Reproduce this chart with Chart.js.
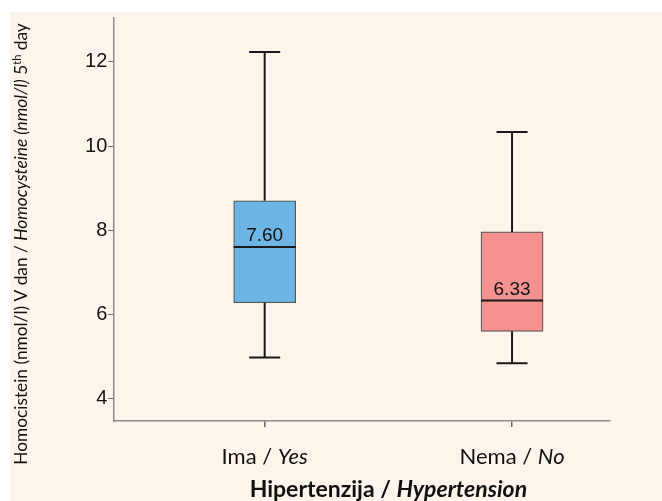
<!DOCTYPE html>
<html>
<head>
<meta charset="utf-8">
<script src="https://cdn.jsdelivr.net/npm/chart.js@4/dist/chart.umd.min.js"></script>
<style>
  html, body { margin: 0; padding: 0; background: #ffffff; }
  #wrap { position: absolute; left: 10px; top: 12px; width: 652px; height: 489px; background: #fdf4eb; }
</style>
</head>
<body>
<div id="wrap"><canvas id="box" width="652" height="489"></canvas></div>
<script>
// groups (local / english)
const groupsLocal = ["Ima", "Nema"];
const groupsEn = ["Yes", "No"];
const groupPos = [1, 2];

// box plot summary values (nmol/l)
const whiskerLow = [4.98, 4.84];
const q1 = [6.28, 5.60];
const median = [7.60, 6.33];
const q3 = [8.70, 7.96];
const whiskerHigh = [12.23, 10.33];

const yTicks = [4, 6, 8, 10, 12];
const boxColors = ["#6db5e5", "#f49191"];

const FONT = "Lato, 'Open Sans', sans-serif";

// draws medians, whiskers and the mixed-style texts
const boxExtras = {
  id: "boxExtras",
  afterDatasetsDraw(chart) {
    const { ctx, scales: { x, y } } = chart;
    ctx.save();
    groupPos.forEach((g, i) => {
      const cx = x.getPixelForValue(g);
      const half = 31, cap = 15.5;
      // whiskers
      ctx.strokeStyle = "#1a1a1a";
      ctx.lineWidth = 2;
      ctx.beginPath();
      ctx.moveTo(cx, y.getPixelForValue(q3[i]));
      ctx.lineTo(cx, y.getPixelForValue(whiskerHigh[i]));
      ctx.moveTo(cx - cap, y.getPixelForValue(whiskerHigh[i]));
      ctx.lineTo(cx + cap, y.getPixelForValue(whiskerHigh[i]));
      ctx.moveTo(cx, y.getPixelForValue(q1[i]));
      ctx.lineTo(cx, y.getPixelForValue(whiskerLow[i]));
      ctx.moveTo(cx - cap, y.getPixelForValue(whiskerLow[i]));
      ctx.lineTo(cx + cap, y.getPixelForValue(whiskerLow[i]));
      ctx.stroke();
      // median
      const my = y.getPixelForValue(median[i]);
      ctx.beginPath();
      ctx.moveTo(cx - half, my);
      ctx.lineTo(cx + half, my);
      ctx.stroke();
      ctx.fillStyle = "#111";
      ctx.font = "19px 'Liberation Sans', Arial, sans-serif";
      ctx.textAlign = "center";
      ctx.textBaseline = "alphabetic";
      ctx.fillText(median[i].toFixed(2), cx, my - 6);
    });
    ctx.restore();
  },
  afterDraw(chart) {
    const { ctx, scales: { x } } = chart;
    ctx.save();
    ctx.fillStyle = "#111";
    ctx.textBaseline = "alphabetic";
    ctx.textAlign = "left";

    const drawParts = (parts, cx, by) => {
      let total = 0;
      parts.forEach(p => { ctx.font = p.font; total += ctx.measureText(p.text).width; });
      let px = cx - total / 2;
      parts.forEach(p => {
        ctx.font = p.font;
        ctx.fillText(p.text, px, by + (p.dy || 0));
        px += ctx.measureText(p.text).width;
      });
    };

    // category labels
    groupPos.forEach((g, i) => {
      drawParts([
        { text: groupsLocal[i] + " / ", font: "22px " + FONT },
        { text: groupsEn[i], font: "italic 22px " + FONT }
      ], x.getPixelForValue(g), 452);
    });

    // x title
    const mid = (x.getPixelForValue(groupPos[0]) + x.getPixelForValue(groupPos[1])) / 2;
    drawParts([
      { text: "Hipertenzija / ", font: "bold 23px " + FONT },
      { text: "Hypertension", font: "bold italic 23px " + FONT }
    ], mid, 485);

    // y title, rotated
    ctx.translate(17, 232);
    ctx.rotate(-Math.PI / 2);
    drawParts([
      { text: "Homocistein (nmol/l) V dan / ", font: "17.3px " + FONT },
      { text: "Homocysteine (nmol/l)", font: "italic 17.3px " + FONT },
      { text: " 5", font: "17.3px " + FONT },
      { text: "th", font: "11px " + FONT, dy: -6 },
      { text: " day", font: "17.3px " + FONT }
    ], 0, 0);
    ctx.restore();
  }
};

new Chart(document.getElementById("box"), {
  type: "bar",
  data: {
    datasets: [{
      data: groupPos.map((g, i) => ({ x: g, y: [q1[i], q3[i]] })),
      backgroundColor: boxColors,
      borderColor: "#555555",
      borderWidth: 1.2,
      borderSkipped: false,
      barThickness: 62
    }]
  },
  options: {
    responsive: false,
    animation: false,
    layout: { padding: { top: 6, right: 52, left: 0, bottom: 0 } },
    plugins: { legend: { display: false }, tooltip: { enabled: false } },
    scales: {
      x: {
        type: "linear",
        offset: false,
        min: 0.388,
        max: 2.396,
        afterBuildTicks: s => { s.ticks = groupPos.map(v => ({ value: v })); },
        afterFit: s => { s.height = 80; s.paddingLeft = 0; s.paddingRight = 0; },
        ticks: { display: false },
        grid: { offset: false, drawOnChartArea: false, tickLength: 6, color: "#666", lineWidth: 1.5 },
        border: { color: "#8a8a8a", width: 1.5 }
      },
      y: {
        min: 3.47,
        max: 13.04,
        afterBuildTicks: s => { s.ticks = yTicks.map(v => ({ value: v })); },
        afterFit: s => { s.width = 103.3; s.paddingTop = 0; s.paddingBottom = 0; },
        ticks: {
          color: "#111",
          padding: 1,
          font: { family: "'Liberation Sans', Arial, sans-serif", size: 20 }
        },
        grid: { drawOnChartArea: false, tickLength: 5, color: "#666", lineWidth: 1 },
        border: { color: "#8a8a8a", width: 1.5 }
      }
    }
  },
  plugins: [boxExtras]
});
</script>
</body>
</html>
